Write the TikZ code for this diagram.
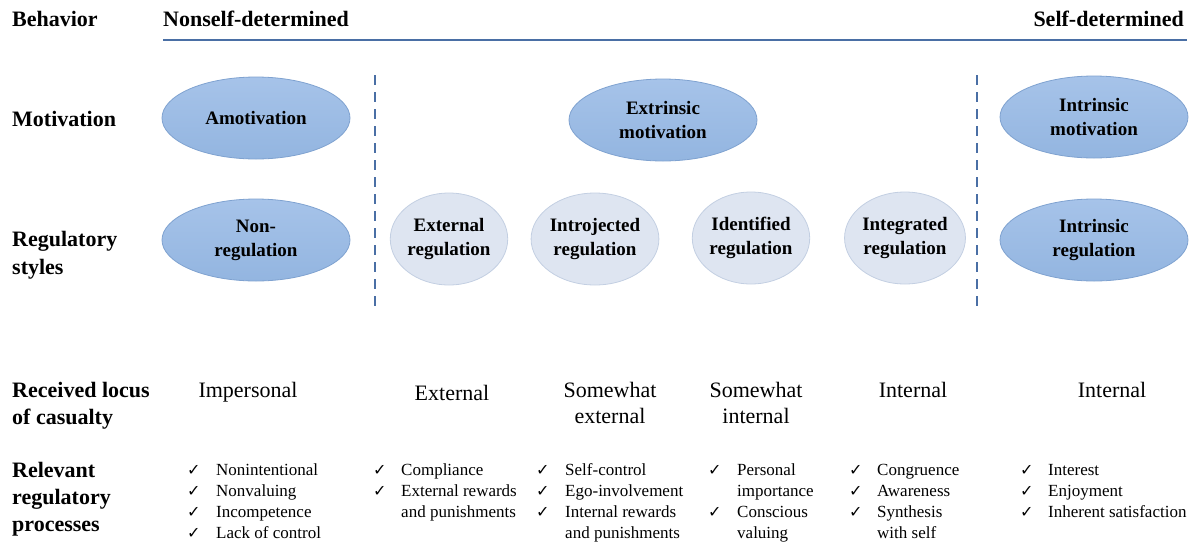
\documentclass[tikz,border=0pt]{standalone}
\usepackage{fontspec}
\setmainfont{Liberation Serif}
\newfontfamily\djv{DejaVu Sans}
\usetikzlibrary{shapes.geometric}
\definecolor{linecol}{HTML}{4A6FA5}
\definecolor{darkfillT}{HTML}{A6C3E9}
\definecolor{darkfillB}{HTML}{93B5E0}
\definecolor{darkedge}{HTML}{7FA2D0}
\definecolor{lightfill}{HTML}{DEE5F1}
\definecolor{lightedge}{HTML}{C3CFE2}
\begin{document}
\begin{tikzpicture}[x=1pt,y=-1pt,
  lbl/.style={font=\fontsize{22}{27}\selectfont\bfseries, anchor=base west, inner sep=0},
  hdr/.style={font=\fontsize{22}{27}\selectfont\bfseries, inner sep=0},
  locus/.style={font=\fontsize{22}{27}\selectfont, anchor=base, inner sep=0},
  item/.style={font=\fontsize{17}{21}\selectfont, anchor=base west, inner sep=0},
  tick/.style={font=\djv\fontsize{16}{18}\selectfont, anchor=base west, inner sep=0},
  bigell/.style={ellipse, draw=darkedge, line width=0.8pt, top color=darkfillT, bottom color=darkfillB,
    minimum width=188pt, minimum height=82pt, inner sep=0, align=center,
    font=\fontsize{19}{24}\selectfont\bfseries},
  smallell/.style={ellipse, draw=lightedge, line width=0.8pt, fill=lightfill,
    minimum width=117pt, minimum height=92pt, inner sep=0, align=center,
    font=\fontsize{19}{24}\selectfont\bfseries},
  divider/.style={draw=linecol, line width=2.6pt, dash pattern=on 10pt off 7pt},
  topline/.style={draw=linecol, line width=2.6pt}
]
\useasboundingbox (0,0) rectangle (1197,542);

% header
\node[lbl] (beh) at (12,26) {Behavior};
\node[hdr, anchor=base west] (nsd) at (163,26) {Nonself-determined};
\node[hdr, anchor=base east] (sd) at (1184,26) {Self-determined};
\coordinate (tl1) at (163,40);
\coordinate (tl2) at (1187,40);
\draw[topline] (tl1) -- (tl2);

% row labels
\node[lbl] (mot) at (12,126) {Motivation};
\node[lbl] (reg1) at (12,246) {Regulatory};
\node[lbl] (reg2) at (12,274) {styles};
\node[lbl] (loc1) at (12,397) {Received locus};
\node[lbl] (loc2) at (12,424) {of casualty};
\node[lbl] (rel1) at (12,477) {Relevant};
\node[lbl] (rel2) at (12,504) {regulatory};
\node[lbl] (rel3) at (12,531) {processes};

% dividers
\coordinate (d1t) at (375,75);
\coordinate (d1b) at (375,307);
\coordinate (d2t) at (977,75);
\coordinate (d2b) at (977,307);
\draw[divider] (d1t) -- (d1b);
\draw[divider] (d2t) -- (d2b);

% ellipses
\node[bigell] (amot) at (256,118) {Amotivation};
\node[bigell] (nonreg) at (256,240) {Non-\\regulation};
\node[bigell] (extmot) at (663,120) {Extrinsic\\motivation};
\node[bigell] (intmot) at (1094,117) {Intrinsic\\motivation};
\node[bigell] (intreg) at (1094,240) {Intrinsic\\regulation};
\node[smallell] (extreg) at (449,239) {External\\regulation};
\node[smallell] (introreg) at (595,239) {Introjected\\regulation};
\node[smallell] (identreg) at (751,238) {Identified\\regulation};
\node[smallell] (integreg) at (905,238) {Integrated\\regulation};

% locus
\node[locus] (l1) at (248,397) {Impersonal};
\node[locus] (l2) at (452,400) {External};
\node[locus] (l3a) at (610,397) {Somewhat};
\node[locus] (l3b) at (610,423) {external};
\node[locus] (l4a) at (756,397) {Somewhat};
\node[locus] (l4b) at (756,423) {internal};
\node[locus] (l5) at (913,397) {Internal};
\node[locus] (l6) at (1112,397) {Internal};

% processes column 1
\node[tick] (c1a) at (187,475) {✓};
\node[item] (p1a) at (216,475) {Nonintentional};
\node[tick] (c1b) at (187,496) {✓};
\node[item] (p1b) at (216,496) {Nonvaluing};
\node[tick] (c1c) at (187,517) {✓};
\node[item] (p1c) at (216,517) {Incompetence};
\node[tick] (c1d) at (187,538) {✓};
\node[item] (p1d) at (216,538) {Lack of control};
% column 2
\node[tick] (c2a) at (373,475) {✓};
\node[item] (p2a) at (401,475) {Compliance};
\node[tick] (c2b) at (373,496) {✓};
\node[item] (p2b) at (401,496) {External rewards};
\node[item] (p2c) at (401,517) {and punishments};
% column 3
\node[tick] (c3a) at (536,475) {✓};
\node[item] (p3a) at (565,475) {Self-control};
\node[tick] (c3b) at (536,496) {✓};
\node[item] (p3b) at (565,496) {Ego-involvement};
\node[tick] (c3c) at (536,517) {✓};
\node[item] (p3c) at (565,517) {Internal rewards};
\node[item] (p3d) at (565,538) {and punishments};
% column 4
\node[tick] (c4a) at (708,475) {✓};
\node[item] (p4a) at (737,475) {Personal};
\node[item] (p4b) at (737,496) {importance};
\node[tick] (c4c) at (708,517) {✓};
\node[item] (p4c) at (737,517) {Conscious};
\node[item] (p4d) at (737,538) {valuing};
% column 5
\node[tick] (c5a) at (849,475) {✓};
\node[item] (p5a) at (877,475) {Congruence};
\node[tick] (c5b) at (849,496) {✓};
\node[item] (p5b) at (877,496) {Awareness};
\node[tick] (c5c) at (849,517) {✓};
\node[item] (p5c) at (877,517) {Synthesis};
\node[item] (p5d) at (877,538) {with self};
% column 6
\node[tick] (c6a) at (1020,475) {✓};
\node[item] (p6a) at (1048,475) {Interest};
\node[tick] (c6b) at (1020,496) {✓};
\node[item] (p6b) at (1048,496) {Enjoyment};
\node[tick] (c6c) at (1020,517) {✓};
\node[item] (p6c) at (1048,517) {Inherent satisfaction};
\end{tikzpicture}
\end{document}
